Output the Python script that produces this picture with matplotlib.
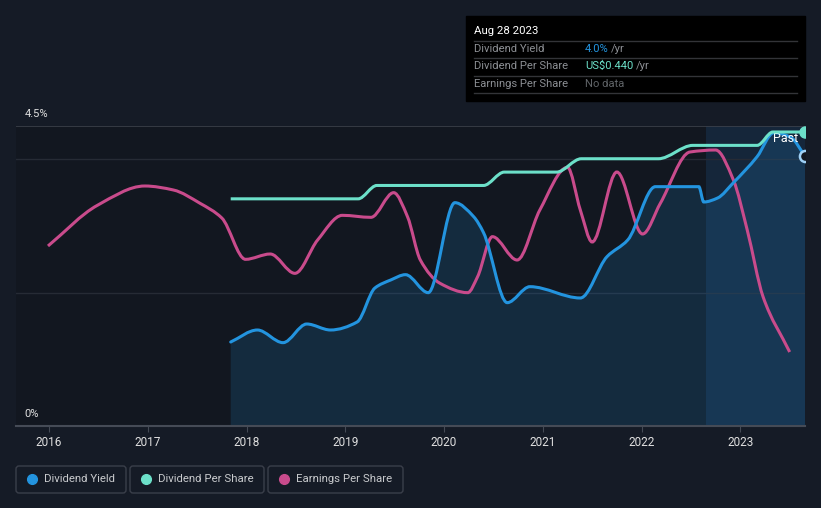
import matplotlib
matplotlib.use("Agg")
import matplotlib.pyplot as plt
from matplotlib.patches import FancyBboxPatch, Rectangle, PathPatch
from matplotlib.lines import Line2D
from matplotlib.path import Path
from matplotlib.transforms import IdentityTransform

plt.rcParams['font.family'] = ['Roboto', 'DejaVu Sans']

# ---- data ----
yield_t = [2017.84, 2018.11, 2018.37, 2018.61, 2018.85, 2019.12, 2019.30, 2019.46,
           2019.61, 2019.84, 2020.11, 2020.30, 2020.40, 2020.64, 2020.87, 2021.38,
           2021.65, 2021.86, 2022.14, 2022.58, 2022.63, 2022.77, 2022.93, 2023.17,
           2023.34, 2023.51, 2023.655]
yield_v = [1.26, 1.44, 1.25, 1.53, 1.44, 1.56, 2.07, 2.19,
           2.27, 2.00, 3.35, 3.14, 2.90, 1.85, 2.09, 1.92,
           2.54, 2.79, 3.59, 3.59, 3.36, 3.42, 3.65, 4.04,
           4.40, 4.33, 4.05]

dps_t = [2017.84, 2019.13, 2019.32, 2020.40, 2020.61, 2021.14, 2021.39, 2022.17,
         2022.52, 2023.17, 2023.33, 2023.655]
dps_v = [0.34, 0.34, 0.36, 0.36, 0.38, 0.38, 0.40, 0.40,
         0.42, 0.42, 0.44, 0.44]

eps_t = [2015.99, 2016.49, 2016.97, 2017.26, 2017.53, 2017.75, 2017.99, 2018.24,
         2018.49, 2018.72, 2018.97, 2019.26, 2019.49, 2019.63, 2019.76, 2019.96,
         2020.24, 2020.34, 2020.49, 2020.74, 2020.97, 2021.25, 2021.38, 2021.50,
         2021.75, 2022.01, 2022.19, 2022.49, 2022.75, 2022.93, 2023.07, 2023.23,
         2023.50]
eps_v = [2.70, 3.31, 3.60, 3.54, 3.34, 3.12, 2.50, 2.58,
         2.29, 2.79, 3.16, 3.13, 3.50, 3.14, 2.49, 2.14,
         2.00, 2.24, 2.84, 2.49, 3.24, 3.88, 3.24, 2.76,
         3.81, 2.88, 3.34, 4.11, 4.14, 3.69, 2.94, 1.94,
         1.11]

x_ticks = [2016, 2017, 2018, 2019, 2020, 2021, 2022, 2023]
x_tick_labels = ["2016", "2017", "2018", "2019", "2020", "2021", "2022", "2023"]
y_label_vals = [0.0, 4.5]
y_label_texts = ["0%", "4.5%"]
grid_vals = [2.0, 4.0]
past_start = 2022.655
end_t = 2023.655

BLUE = '#2394df'
TEAL = '#6ce0c9'
PINK = '#c94b8c'
FIG_BG = '#151b26'
AX_BG = '#121720'


def monotone_path(xs, ys, close_to=None):
    """Monotone cubic (like d3.curveMonotoneX) drawn as Bezier segments."""
    n = len(xs)
    h = [xs[i + 1] - xs[i] for i in range(n - 1)]
    d = [(ys[i + 1] - ys[i]) / h[i] for i in range(n - 1)]
    m = [0.0] * n
    for i in range(1, n - 1):
        if d[i - 1] * d[i] <= 0:
            m[i] = 0.0
        else:
            w1 = 2 * h[i] + h[i - 1]
            w2 = h[i] + 2 * h[i - 1]
            m[i] = (w1 + w2) / (w1 / d[i - 1] + w2 / d[i])
    m[0] = d[0]
    m[-1] = d[-1]
    verts = [(xs[0], ys[0])]
    codes = [Path.MOVETO]
    for i in range(n - 1):
        verts += [(xs[i] + h[i] / 3, ys[i] + m[i] * h[i] / 3),
                  (xs[i + 1] - h[i] / 3, ys[i + 1] - m[i + 1] * h[i] / 3),
                  (xs[i + 1], ys[i + 1])]
        codes += [Path.CURVE4] * 3
    if close_to is not None:
        verts += [(xs[-1], close_to), (xs[0], close_to), (xs[0], ys[0])]
        codes += [Path.LINETO, Path.LINETO, Path.CLOSEPOLY]
    return Path(verts, codes)


W, H = 821, 508
fig = plt.figure(figsize=(W / 100, H / 100), dpi=100, facecolor=FIG_BG)
ax = fig.add_axes([16 / W, (H - 426) / H, (805 - 16) / W, 300 / H])
ax.set_facecolor(AX_BG)
ax.set_xlim(2015.666, end_t)
ax.set_ylim(0, 4.5)

ax2 = ax.twinx()
ax2.set_ylim(0, 0.449)
ax2.axis('off')

for s in ax.spines.values():
    s.set_visible(False)
ax.set_yticks([])
ax.set_xticks(x_ticks)
ax.set_xticklabels(x_tick_labels, color='#e0e0e0', fontsize=8.5)
ax.tick_params(axis='x', length=4, color='#444a55', pad=3)

# past region
ax.axvspan(past_start, end_t, color='#1b3d60', alpha=0.42, lw=0, zorder=0)

# grid
ax.axhline(4.5, color='#3b404a', lw=1.2, zorder=1)
for g in grid_vals:
    ax.axhline(g, color='#262b35', lw=1, zorder=1)
ax.axhline(0, color='#454b56', lw=1.5, zorder=5, clip_on=False)

# y labels
for v, t in zip(y_label_vals, y_label_texts):
    ax.text(2015.755, v + 0.18, t, color='#e0e0e0', fontsize=8, va='center', ha='left')

# series
ax.add_patch(PathPatch(monotone_path(yield_t, yield_v, close_to=0), fc=BLUE, alpha=0.16,
                       lw=0, zorder=2))
ax.add_patch(PathPatch(monotone_path(yield_t, yield_v), fc='none', ec=BLUE, lw=2.2,
                       zorder=4, capstyle='round'))
ax2.add_patch(PathPatch(monotone_path(dps_t, dps_v), fc='none', ec=TEAL, lw=2.2, zorder=4))
ax.add_patch(PathPatch(monotone_path(eps_t, eps_v), fc='none', ec=PINK, lw=2.2, zorder=3))

# end markers
ax.plot([end_t], [yield_v[-1]], 'o', ms=8, mfc=AX_BG, mec='#9fd0f5', mew=1.8, zorder=6, clip_on=True)
ax2.plot([end_t], [dps_v[-1]], 'o', ms=8, mfc=TEAL, mec=TEAL, zorder=6, clip_on=True)
ax.text(2023.33, 4.21, "Past", color='white', fontsize=9, va='bottom', ha='left', zorder=7)

# tooltip
ID = IdentityTransform()
fig.add_artist(Rectangle((466, H - 101), 339, 85, transform=ID, color='#000000', zorder=10))
fig.text(474 / W, 1 - 31 / H, "Aug 28 2023", color='white', fontsize=8.2, va='center', zorder=11)
for yy in [41, 58, 76, 93]:
    fig.add_artist(Line2D([474, 797], [H - yy, H - yy], transform=ID, color='#333438', lw=1, zorder=11))
rows = [("Dividend Yield", "4.0%", BLUE, "/yr", 611),
        ("Dividend Per Share", "US$0.440", TEAL, "/yr", 636),
        ("Earnings Per Share", "No data", '#606468', "", 0)]
for i, (lab, val, col, suf, sx) in enumerate(rows):
    yy = [49, 66, 84][i]
    fig.text(474 / W, 1 - yy / H, lab, color='#8c8f94', fontsize=8.1, va='center', zorder=11)
    fig.text(585 / W, 1 - yy / H, val, color=col, fontsize=8.1, va='center', zorder=11)
    if suf:
        fig.text(sx / W, 1 - yy / H, suf, color='#8c8f94', fontsize=8.1, va='center', zorder=11)

# legend
legend_items = [("Dividend Yield", BLUE, 16, 126), ("Dividend Per Share", TEAL, 130, 264),
                ("Earnings Per Share", PINK, 268, 403)]
for lab, col, x0, x1 in legend_items:
    fig.add_artist(FancyBboxPatch((x0, H - 493), x1 - x0, 27, transform=ID,
                                  boxstyle="round,pad=0,rounding_size=3",
                                  fc='none', ec='#3a3f4a', lw=1))
    fig.add_artist(Line2D([x0 + 16], [H - 479], transform=ID, marker='o', ms=7,
                          color=col, lw=0))
    fig.text((x0 + 28) / W, 1 - 479 / H, lab, color='#c8cacd', fontsize=8.2, va='center')

fig.savefig("out.png", dpi=100, facecolor=FIG_BG)
